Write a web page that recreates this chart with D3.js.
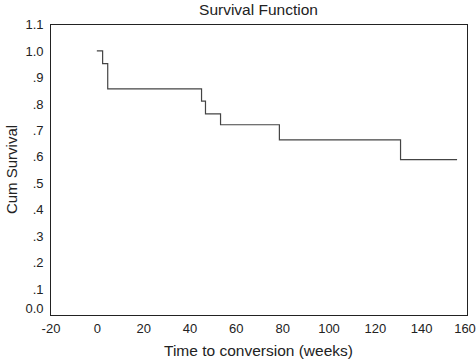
<!DOCTYPE html>
<html>
<head>
<meta charset="utf-8">
<script src="https://cdn.jsdelivr.net/npm/d3@7"></script>
<style>
    body { margin: 0; background: #fff; }
    svg { font-family: "Liberation Sans", Arial, sans-serif; }
    .axis text { font-size: 13px; fill: #222; }
    .axis path, .axis line { display: none; }
</style>
</head>
<body>
<div id="chart"></div>
<script>
// Kaplan-Meier steps
const times = [0, 2.5, 4.7, 45.2, 46.9, 53.4, 78.8, 131.1, 155.5];
const survival = [1.0, 0.952, 0.857, 0.810, 0.762, 0.721, 0.664, 0.589, 0.589];

const xTicks = [-20, 0, 20, 40, 60, 80, 100, 120, 140, 160];
const yTicks = [0, 0.1, 0.2, 0.3, 0.4, 0.5, 0.6, 0.7, 0.8, 0.9, 1.0, 1.1];

const margin = {top: 24, right: 9, bottom: 45, left: 50};
const width = 476 - margin.left - margin.right;
const height = 360 - margin.top - margin.bottom;

const svg = d3.select("#chart").append("svg")
    .attr("width", 476)
    .attr("height", 360);

const g = svg.append("g")
    .attr("transform", `translate(${margin.left + 0.5},${margin.top + 0.5})`);

// scales
const x = d3.scaleLinear().domain([-20, 160]).range([0, width]);
const y = d3.scaleLinear().domain([0, 1.1]).range([height, 0]);

// y tick labels: SPSS style (.9, .8 ... 0.0, 1.0, 1.1)
const yFmt = d => {
    if (d === 0) return "0.0";
    if (d >= 1) return d3.format(".1f")(d);
    return d3.format(".1f")(d).replace(/^0/, "");
};

g.append("g")
    .attr("class", "axis")
    .call(d3.axisLeft(y).tickValues(yTicks).tickFormat(yFmt).tickSize(0).tickPadding(7))
    .selectAll("text")
    .attr("dy", d => d === 0 ? "-0.2em" : "0.32em");

g.append("g")
    .attr("class", "axis")
    .attr("transform", `translate(0,${height})`)
    .call(d3.axisBottom(x).tickValues(xTicks).tickFormat(d => String(d)).tickSize(0).tickPadding(8))
    .selectAll("text")
    .attr("dx", d => d === 160 ? "-3px" : 0);

// frame
g.append("rect")
    .attr("x", 0)
    .attr("y", 0)
    .attr("width", width)
    .attr("height", height)
    .attr("fill", "none")
    .attr("stroke", "#222")
    .attr("stroke-width", 1);

// survival step line
const pts = times.map((t, i) => ({t: t, s: survival[i]}));
g.append("path")
    .datum(pts)
    .attr("fill", "none")
    .attr("stroke", "#444")
    .attr("stroke-width", 1.2)
    .attr("d", d3.line()
        .x(d => x(d.t))
        .y(d => y(d.s))
        .curve(d3.curveStepAfter));

// titles
svg.append("text")
    .attr("x", margin.left + width / 2)
    .attr("y", 15)
    .attr("text-anchor", "middle")
    .attr("font-size", "15.5px")
    .attr("fill", "#222")
    .text("Survival Function");

svg.append("text")
    .attr("x", margin.left + width / 2)
    .attr("y", 356)
    .attr("text-anchor", "middle")
    .attr("font-size", "15.5px")
    .attr("fill", "#222")
    .text("Time to conversion (weeks)");

svg.append("text")
    .attr("transform", `translate(17,${margin.top + height / 2}) rotate(-90)`)
    .attr("text-anchor", "middle")
    .attr("font-size", "15px")
    .attr("fill", "#222")
    .text("Cum Survival");
</script>
</body>
</html>
